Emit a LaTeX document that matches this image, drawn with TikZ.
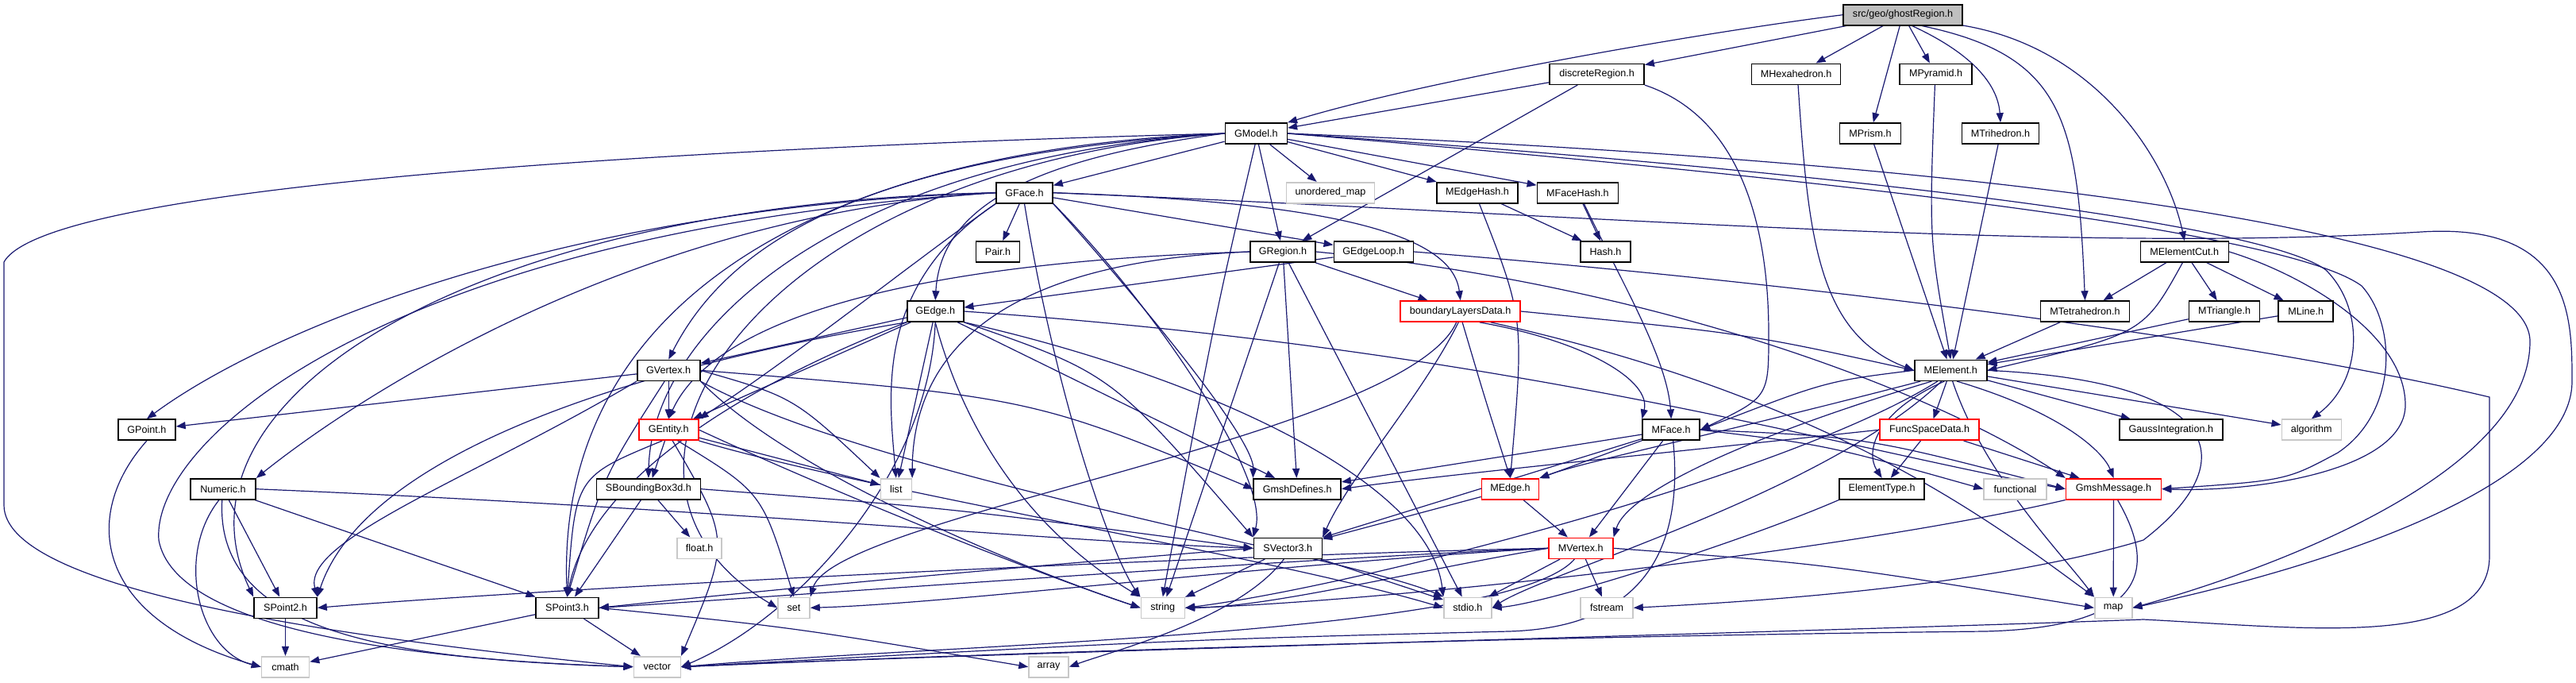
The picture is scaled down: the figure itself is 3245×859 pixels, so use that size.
\documentclass[tikz,border=0pt]{standalone}
\usepackage{fontspec}
\setmainfont{Liberation Sans}
\usetikzlibrary{arrows.meta}
\definecolor{edgeblue}{RGB}{25,25,112}
\definecolor{lgray}{RGB}{200,200,200}
\definecolor{rootfill}{RGB}{191,191,191}
\pgfdeclarelayer{bg}
\pgfsetlayers{bg,main}
\tikzset{
  nd/.style={draw=black, line width=0.8pt, fill=white, minimum height=13pt, inner sep=0pt,
    font=\fontsize{6.3pt}{7.5pt}\selectfont},
  gr/.style={nd, draw=lgray},
  rd/.style={nd, draw=red},
  rt/.style={nd, fill=rootfill},
  ed/.style={draw=edgeblue, line width=0.6pt, -{Triangle[length=6pt,width=4.5pt]}},
}
\begin{document}
\begin{tikzpicture}[x=0.5pt,y=-0.5pt]
\useasboundingbox (0,0) rectangle (3245,859);
% nodes
\node[rt, minimum width=75pt] (root) at (2397,18.7) {src/geo/ghostRegion.h};
\node[nd, minimum width=59.5pt] (dR) at (2011.6,93.3) {discreteRegion.h};
\node[nd, minimum width=56pt] (MHex) at (2262.6,93.3) {MHexahedron.h};
\node[nd, minimum width=45.5pt] (MPyr) at (2438.6,93.3) {MPyramid.h};
\node[nd, minimum width=39pt] (GModel) at (1582.3,168) {GModel.h};
\node[nd, minimum width=38.5pt] (MPrism) at (2356,168) {MPrism.h};
\node[nd, minimum width=48.5pt] (MTri) at (2520,168) {MTrihedron.h};
\node[nd, minimum width=35.5pt] (GFace) at (1290.5,242.7) {GFace.h};
\node[gr, minimum width=55.5pt] (umap) at (1676,242.7) {unordered\_map};
\node[nd, minimum width=51pt] (MEH) at (1861,242.7) {MEdgeHash.h};
\node[nd, minimum width=51pt] (MFH) at (1987.4,242.7) {MFaceHash.h};
\node[nd, minimum width=27.5pt] (Pair) at (1257,317) {Pair.h};
\node[nd, minimum width=41pt] (GRegion) at (1616,317) {GRegion.h};
\node[nd, minimum width=50pt] (GEL) at (1730.3,317) {GEdgeLoop.h};
\node[nd, minimum width=31.5pt] (Hash) at (2022.5,317) {Hash.h};
\node[nd, minimum width=55.5pt] (MEC) at (2751.8,317) {MElementCut.h};
\node[nd, minimum width=35.5pt] (GEdge) at (1178.2,392) {GEdge.h};
\node[rd, minimum width=75.5pt] (bLD) at (1839.7,392) {boundaryLayersData.h};
\node[nd, minimum width=56pt] (MTet) at (2626.5,392) {MTetrahedron.h};
\node[nd, minimum width=44.5pt] (MTri3) at (2802,392) {MTriangle.h};
\node[nd, minimum width=34.5pt] (MLine) at (2904.7,392) {MLine.h};
\node[nd, minimum width=39.5pt] (GVertex) at (842.2,466.3) {GVertex.h};
\node[nd, minimum width=45.5pt] (MElement) at (2457.2,466.3) {MElement.h};
\node[nd, minimum width=36pt] (GPoint) at (184.9,541.2) {GPoint.h};
\node[rd, minimum width=37.5pt] (GEntity) at (842.2,541.2) {GEntity.h};
\node[nd, minimum width=36pt] (MFace) at (2105.2,541.2) {MFace.h};
\node[rd, minimum width=62.5pt] (FSD) at (2430.6,541.2) {FuncSpaceData.h};
\node[nd, minimum width=65pt] (GI) at (2734.8,541.2) {GaussIntegration.h};
\node[gr, minimum width=37.5pt] (algo) at (2911.8,541.2) {algorithm};
\node[nd, minimum width=41pt] (Numeric) at (281,615.7) {Numeric.h};
\node[nd, minimum width=65.5pt] (SBB) at (816.9,615.7) {SBoundingBox3d.h};
\node[gr, minimum width=19.5pt] (list) at (1128.8,615.7) {list};
\node[nd, minimum width=55pt] (GD) at (1634.2,615.7) {GmshDefines.h};
\node[rd, minimum width=36pt] (MEdge) at (1902.5,615.7) {MEdge.h};
\node[nd, minimum width=53.5pt] (ET) at (2370.6,615.7) {ElementType.h};
\node[gr, minimum width=39.5pt] (func) at (2538.5,615.7) {functional};
\node[rd, minimum width=60pt] (GM) at (2662.5,615.7) {GmshMessage.h};
\node[gr, minimum width=28pt] (floath) at (881.1,690.3) {float.h};
\node[nd, minimum width=43pt] (SV3) at (1622.3,690.3) {SVector3.h};
\node[rd, minimum width=40.5pt] (MVertex) at (1991.3,690.3) {MVertex.h};
\node[nd, minimum width=39.5pt] (SP2) at (359.5,765.3) {SPoint2.h};
\node[nd, minimum width=39.5pt] (SP3) at (714.5,765.3) {SPoint3.h};
\node[gr, minimum width=20pt] (set) at (1000,765.3) {set};
\node[gr, minimum width=27.5pt] (string) at (1464.8,765.3) {string};
\node[gr, minimum width=30pt] (stdio) at (1848.9,765.3) {stdio.h};
\node[gr, minimum width=33pt] (fstream) at (2024,765.3) {fstream};
\node[gr, minimum width=23.5pt] (map) at (2662.2,765.3) {map};
\node[gr, minimum width=30pt] (cmath) at (359.5,839.7) {cmath};
\node[gr, minimum width=29.5pt] (vector) at (827.8,839.7) {vector};
\node[gr, minimum width=25pt] (array) at (1321,839.7) {array};
% edges
\begin{pgfonlayer}{bg}
\begin{scope}[every path/.style={ed}]
% root
\draw (root) -- (dR);
\draw (root.west) .. controls (2150,40) and (1800,100) .. (GModel.north east);
\draw (root) -- (MHex);
\draw (root) -- (MPrism);
\draw (root) -- (MPyr);
\draw (root.-50) .. controls (2490,70) and (2517,110) .. (MTri.north);
\draw (root.-30) .. controls (2600,70) and (2617,150) .. (MTet.north);
\draw (root.-10) .. controls (2640,60) and (2730,200) .. (MEC.north);
% discreteRegion
\draw (dR) -- (GModel);
\draw (dR) -- (GRegion);
\draw (dR.south east) .. controls (2200,150) and (2228,300) .. (2228,420) .. controls (2228,500) .. (MFace.east);
% GModel
\draw (GModel) -- (GFace);
\draw (GModel) -- (umap);
\draw (GModel) -- (MEH);
\draw (GModel) -- (MFH);
\draw (GModel) -- (GRegion);
\draw (GModel.-95) .. controls (1530,400) .. (string.north);
\draw (GModel.west) .. controls (1300,200) and (1185,260) .. (GEdge.north);
\draw (GModel.west) .. controls (1100,195) and (920,300) .. (GVertex.north);
\draw (GModel.west) .. controls (1000,190) and (700,400) .. (SP3.north);
\draw (GModel.west) .. controls (1050,200) and (820,420) .. (SBB.north);
\draw (GModel.west) .. controls (950,210) and (700,600) .. (set.west);
\draw (GModel.west) .. controls (900,185) and (60,230) .. (5,330) -- (5,636) .. controls (5,740) and (400,800) .. (vector.west);
\draw (GModel.east) .. controls (2400,200) and (3187,280) .. (3187,430) .. controls (3187,600) and (2850,720) .. (map.east);
\draw (GModel.east) .. controls (2300,215) and (2850,280) .. (2930,340) .. controls (2980,390) and (2975,480) .. (algo.north);
\draw (GModel.east) .. controls (2300,225) and (2880,290) .. (2975,360) .. controls (3020,410) and (3020,520) .. (2945,570) .. controls (2880,605) .. (GM.east);
% GFace
\draw (GFace) -- (Pair);
\draw (GFace) -- (GEL);
\draw (GFace.east) .. controls (1700,255) and (1830,300) .. (bLD.north);
\draw (GFace.south west) .. controls (1150,330) and (1000,450) .. (GEntity.north east);
\draw (GFace.south west) .. controls (1100,360) and (1120,500) .. (list.north);
\draw (GFace.west) .. controls (700,260) and (330,420) .. (GPoint.north);
\draw (GFace.west) .. controls (800,270) and (450,500) .. (Numeric.north east);
\draw (GFace.west) .. controls (600,255) and (200,500) .. (SP2.north west);
\draw (GFace.west) .. controls (500,290) and (190,550) .. (200,680) .. controls (220,790) and (500,830) .. (vector.west);
\draw (GFace.south) .. controls (1330,500) and (1400,700) .. (string.north west);
\draw (GFace.south east) .. controls (1450,380) and (1600,600) .. (SV3.north west);
\draw (GFace.south east) .. controls (1420,360) and (1580,550) .. (GD.north west);
\draw (GFace.east) .. controls (2000,270) and (2600,320) .. (3050,292) .. controls (3240,280) and (3240,400) .. (3240,480) .. controls (3240,620) and (2900,720) .. (map.east);
% GEdge
\draw (GEdge) -- (GEntity);
\draw (GEdge) -- (GVertex);
\draw (GEdge.south west) .. controls (700,480) and (450,600) .. (SP2.north east);
\draw (GEdge.south west) .. controls (900,500) and (740,620) .. (SP3.north);
\draw (GEdge.south east) .. controls (1400,470) .. (SV3.north west);
\draw (GEdge.south) .. controls (1230,600) and (1350,700) .. (string.north west);
\draw (GEdge.south) .. controls (1170,600) and (1000,780) .. (vector.east);
\draw (GEdge) -- (list);
\draw (GEdge) -- (GD);
\draw (GEdge.south east) .. controls (1500,470) and (1800,600) .. (stdio.north west);
\draw (GEdge.east) .. controls (1900,440) and (2300,560) .. (GM.west);
% GVertex
\draw (GVertex) -- (GEntity);
\draw (GVertex) -- (GPoint);
\draw (GVertex.south west) .. controls (600,600) and (380,680) .. (SP2.north east);
\draw (GVertex.-110) .. controls (760,600) .. (SP3.north);
\draw (GVertex.east) .. controls (1000,500) .. (list.north west);
\draw (GVertex.east) .. controls (1300,500) .. (GD.west);
\draw (GVertex.south east) .. controls (1000,600) and (1300,720) .. (string.west);
\draw (GVertex.south east) .. controls (1100,600) and (1700,700) .. (stdio.north west);
% GRegion
\draw (GRegion.west) .. controls (1150,330) and (900,400) .. (GEntity.north);
\draw (GRegion) -- (bLD);
\draw (GRegion) -- (string);
\draw (GRegion) -- (GD);
\draw (GRegion) -- (stdio);
\draw (GRegion.west) .. controls (1250,330) and (1150,450) .. (list.north east);
\draw (GRegion.east) .. controls (2100,360) and (2450,500) .. (GM.north west);
% GEdgeLoop
\draw (GEL) -- (GEdge);
\draw (GEL.east) .. controls (2200,350) and (2800,420) .. (3136,500) -- (3136,700) .. controls (3136,820) and (2900,790) .. (2700,780) .. controls (2300,795) and (1300,820) .. (vector.east);
% GEntity
\draw (GEntity.-120) .. controls (725,600) .. (SP3.north);
\draw (GEntity) -- (SBB);
\draw (GEntity) -- (list);
\draw (GEntity.-50) .. controls (960,620) .. (set.north);
\draw (GEntity.-70) .. controls (920,680) .. (vector.north east);
\draw (GEntity.east) .. controls (1050,620) and (1300,720) .. (string.west);
\draw (GEntity.south east) .. controls (1100,620) and (1600,700) .. (stdio.west);
% SBB
\draw (SBB) -- (SP3);
\draw (SBB) -- (floath);
\draw (SBB.east) .. controls (1200,640) .. (SV3.west);
% Numeric
\draw (Numeric) -- (SP2);
\draw (Numeric) -- (SP3);
\draw (Numeric.-110) .. controls (220,700) and (250,820) .. (cmath.west);
\draw (Numeric.-95) .. controls (270,800) and (500,830) .. (vector.west);
\draw (Numeric.east) .. controls (900,640) and (1300,680) .. (SV3.west);
% points
\draw (SP2) -- (cmath);
\draw (SP3) -- (cmath);
\draw (SP3) -- (vector);
\draw (SP3.east) .. controls (1000,790) .. (array.west);
\draw (GPoint.south) .. controls (100,650) and (120,780) .. (cmath.west);
% SVector3
\draw (SV3.west) .. controls (1200,720) and (900,750) .. (SP3.east);
\draw (SV3) -- (string);
\draw (SV3) -- (stdio);
\draw (SV3.-110) .. controls (1560,780) and (1400,820) .. (array.east);
% MVertex
\draw (MVertex.west) .. controls (1500,700) and (700,740) .. (SP2.east);
\draw (MVertex.west) .. controls (1600,705) and (1000,750) .. (SP3.east);
\draw (MVertex.west) .. controls (1800,715) and (1600,765) .. (string.east);
\draw (MVertex) -- (stdio);
\draw (MVertex) -- (fstream);
\draw (MVertex.east) .. controls (2300,710) .. (map.west);
\draw (MVertex.-120) .. controls (1900,800) and (1200,810) .. (vector.east);
\draw (MVertex.west) .. controls (1600,710) and (1200,760) .. (set.east);
% MEdge
\draw (MEdge) -- (MVertex);
\draw (MEdge) -- (SV3);
% MFace
\draw (MFace) -- (MEdge);
\draw (MFace) -- (MVertex);
\draw (MFace) -- (SV3);
\draw (MFace) -- (GD);
\draw (MFace.east) .. controls (2300,560) .. (func.west);
\draw (MFace.east) .. controls (2350,550) .. (GM.west);
\draw (MFace.-80) .. controls (2120,680) and (2080,790) .. (1900,795) .. controls (1500,805) .. (vector.east);
% hashes
\draw (MEH) -- (Hash);
\draw (MFH) -- (Hash);
\draw (MEH.-80) .. controls (1920,400) .. (MEdge.north);
\draw (MFH.-60) .. controls (2040,350) and (2100,450) .. (MFace.north);
% boundaryLayersData
\draw (bLD.east) .. controls (2200,420) .. (MElement.west);
\draw (bLD.-30) .. controls (2000,430) and (2080,480) .. (MFace.north west);
\draw (bLD.-80) .. controls (1870,500) .. (MEdge.north);
\draw (bLD.-100) .. controls (1790,500) and (1700,600) .. (SV3.north east);
\draw (bLD.-110) .. controls (1770,550) and (1050,650) .. (set.north east);
\draw (bLD.-20) .. controls (2300,500) and (2500,650) .. (map.north west);
% MElement
\draw (MElement.west) .. controls (2300,480) .. (MFace.east);
\draw (MElement.-160) .. controls (2150,550) and (2000,580) .. (MEdge.north east);
\draw (MElement.-150) .. controls (2200,550) and (2050,620) .. (MVertex.north east);
\draw (MElement.-120) .. controls (2360,520) and (2350,570) .. (ET.north);
\draw (MElement) -- (FSD);
\draw (MElement) -- (GI);
\draw (MElement) -- (algo);
\draw (MElement.-60) .. controls (2600,520) and (2650,570) .. (GM.north);
\draw (MElement.east) .. controls (2800,480) and (2830,580) .. (2700,680) .. controls (2500,740) and (2200,758) .. (fstream.east);
\draw (MElement.-140) .. controls (2250,600) and (1700,740) .. (string.east);
\draw (MElement.-130) .. controls (2300,620) and (1950,720) .. (stdio.east);
\draw (MElement.-80) .. controls (2500,600) and (2600,700) .. (map.north west);
% FuncSpaceData
\draw (FSD) -- (ET);
\draw (FSD) -- (GM);
\draw (FSD.west) .. controls (2100,570) and (1800,600) .. (GD.east);
% GmshMessage
\draw (GM) -- (map);
\draw (GM.south west) .. controls (2300,700) and (1700,760) .. (string.east);
\draw (GM.-70) .. controls (2720,720) and (2700,790) .. (2500,795) .. controls (2000,800) and (1300,820) .. (vector.east);
% ElementType
\draw (ET.south west) .. controls (2200,680) and (1950,760) .. (stdio.east);
% elements
\draw (MHex.-80) .. controls (2278,300) and (2290,420) .. (MElement.west);
\draw (MPrism) -- (MElement);
\draw (MPyr.-95) .. controls (2430,300) .. (MElement.north);
\draw (MTri) -- (MElement);
\draw (MTet) -- (MElement);
\draw (MTri3) -- (MElement);
\draw (MLine) -- (MElement);
\draw (MEC.-100) .. controls (2700,420) .. (MElement.east);
\draw (MEC) -- (MTet);
\draw (MEC) -- (MTri3);
\draw (MEC) -- (MLine);
\draw (MEC.east) .. controls (2900,345) and (3030,420) .. (3030,510) .. controls (3030,590) and (2850,620) .. (GM.east);
\end{scope}
\end{pgfonlayer}
\end{tikzpicture}
\end{document}
